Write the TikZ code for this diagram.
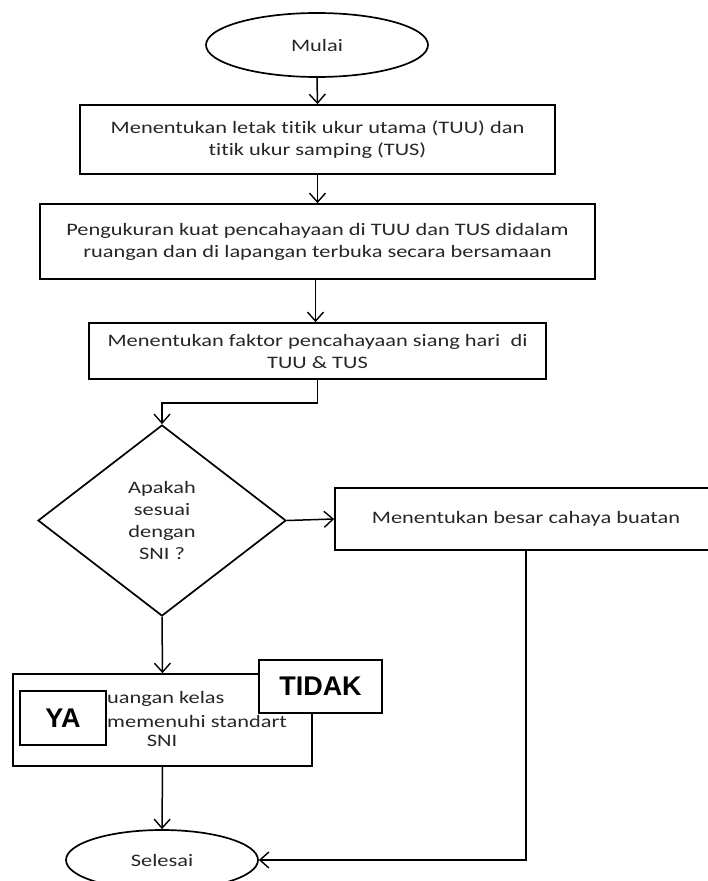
\documentclass[tikz,border=0pt]{standalone}
\usepackage{fontspec}
\setmainfont{Carlito}[FakeStretch=1.28, Ligatures=NoCommon]
\newfontfamily\labfont{Liberation Sans}
\usetikzlibrary{shapes.geometric,arrows.meta,calc}
\begin{document}
\begin{tikzpicture}[x=1pt,y=-1pt,
  every node/.style={font=\fontsize{17.5}{22}\selectfont, text=black!85},
  box/.style={draw, line width=1.7pt, inner sep=0pt, align=center},
  ell/.style={draw, ellipse, line width=1.7pt, inner sep=0pt},
  dia/.style={draw, diamond, line width=1.7pt, inner sep=0pt, align=center},
  lab/.style={draw, fill=white, line width=1.4pt, inner sep=0pt, font=\labfont\bfseries\fontsize{27}{30}\selectfont, text=black},
  txt/.style={inner sep=0pt},
  arr/.style={line width=1.5pt, -{Straight Barb[length=9pt,width=16pt,line width=1.4pt]}},
  ln/.style={line width=1.5pt}]
\useasboundingbox (0,0) rectangle (707,881);
\node[ell, minimum width=222, minimum height=64] (mulai) at (317,45) {Mulai};
\node[box, minimum width=475, minimum height=69] (b1) at (317.5,139.5)
  {Menentukan letak titik ukur utama (TUU) dan\\titik ukur samping (TUS)};
\node[box, minimum width=555, minimum height=75] (b2) at (317.5,241.5)
  {Pengukuran kuat pencahayaan di TUU dan TUS didalam\\ruangan dan di lapangan terbuka secara bersamaan};
\node[box, minimum width=457, minimum height=56] (b3) at (317.5,351)
  {Menentukan faktor pencahayaan siang hari~ di\\TUU \& TUS};
\node[dia, minimum width=248, minimum height=191] (dec) at (162,520.5)
  {Apakah\\sesuai\\dengan\\SNI ?};
\node[box, minimum width=382, minimum height=62] (b4) at (526,519)
  {Menentukan besar cahaya buatan};
\node[box, minimum width=299, minimum height=92] (b5) at (162.5,720) {};
\node[txt, anchor=west] (t1) at (107,699) {uangan kelas};
\node[txt, anchor=west] (t2) at (107,721) {memenuhi standart};
\node[txt] (t3) at (162,741) {SNI};
\node[ell, minimum width=192, minimum height=60] (sel) at (162,860) {Selesai};
\node[lab, minimum width=86, minimum height=54] (ya) at (63,718) {YA};
\node[lab, minimum width=123, minimum height=53] (tidak) at (320.5,686.5) {TIDAK};

\draw[arr] (mulai.south) -- (b1.north);
\draw[arr] (b1.south) -- (b2.north);
\draw[arr] ([xshift=-2pt]b2.south) -- ([xshift=-2pt]b3.north);
\draw[arr] (b3.south) -- ++(0,23) -| (dec.north);
\draw[arr] (dec.east) -- (b4.west);
\draw[arr] (dec.south) -- (b5.north);
\draw[arr] (b5.south) -- (sel.north);
\draw[arr] (b4.south) |- (sel.east);
\end{tikzpicture}
\end{document}
